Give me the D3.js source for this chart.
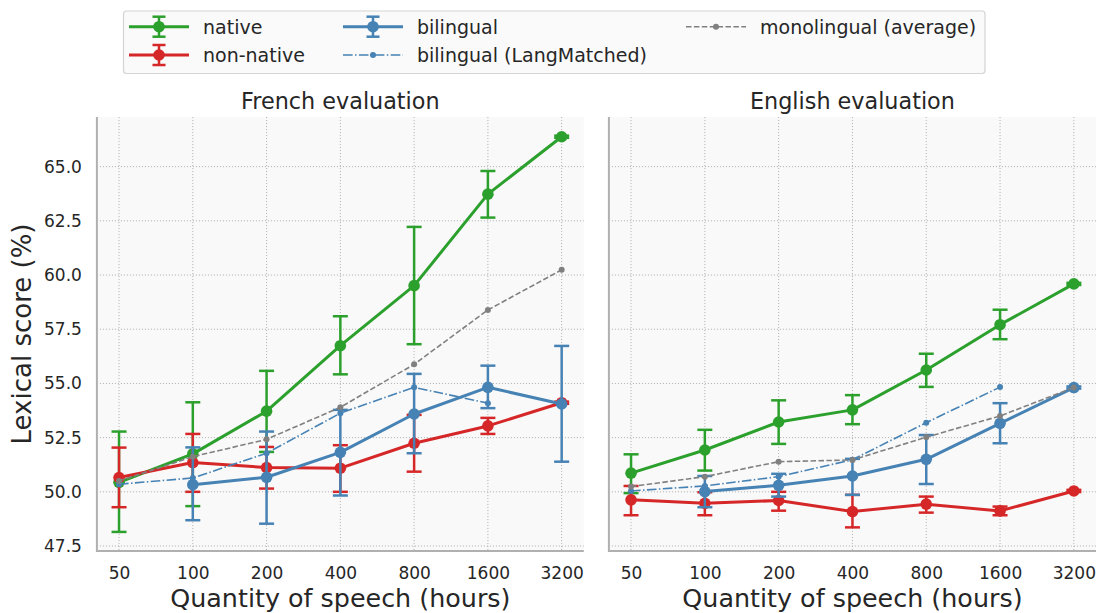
<!DOCTYPE html>
<html>
<head>
<meta charset="utf-8">
<script src="https://cdn.jsdelivr.net/npm/d3@7"></script>
<style>
  html, body { margin: 0; padding: 0; background: #fff; }
  svg { display: block; font-family: "DejaVu Sans", sans-serif; }
</style>
</head>
<body>
<svg id="chart" width="1097" height="613"></svg>
<script>
// Training hours (log2-spaced categories)
const hours = ["50", "100", "200", "400", "800", "1600", "3200"];
const yTicks = [47.5, 50.0, 52.5, 55.0, 57.5, 60.0, 62.5, 65.0];

// French evaluation
const frNative      = [50.44, 51.75, 53.72, 56.74, 59.51, 63.73, 66.38];
const frNativeLo    = [48.15, 49.34, 51.84, 55.42, 56.81, 62.65, 66.33];
const frNativeHi    = [52.78, 54.13, 55.58, 58.10, 62.22, 64.80, 66.43];
const frNonNative   = [50.66, 51.35, 51.12, 51.09, 52.24, 53.04, 54.11];
const frNonNativeLo = [49.29, 50.00, 50.15, 50.00, 50.93, 52.67, 54.06];
const frNonNativeHi = [52.04, 52.67, 52.07, 52.15, 53.55, 53.41, 54.16];
const frBilingual   = [null, 50.33, 50.67, 51.82, 53.59, 54.82, 54.05];
const frBilingualLo = [null, 48.69, 48.53, 49.83, 51.78, 53.86, 51.39];
const frBilingualHi = [null, 52.05, 52.78, 53.78, 55.44, 55.82, 56.73];
const frLangMatched = [50.35, 50.64, 51.78, 53.63, 54.82, 54.09, null];
const frMonolingual = [50.50, 51.62, 52.42, 53.90, 55.88, 58.39, 60.24];

// English evaluation
const enNative      = [50.86, 51.93, 53.22, 53.78, 55.62, 57.71, 59.59];
const enNativeLo    = [49.94, 50.98, 52.21, 53.12, 54.84, 57.04, 59.54];
const enNativeHi    = [51.73, 52.86, 54.22, 54.46, 56.37, 58.40, 59.64];
const enNonNative   = [49.63, 49.47, 49.60, 49.09, 49.43, 49.12, 50.04];
const enNonNativeLo = [48.92, 48.92, 49.13, 48.36, 49.04, 48.92, 49.99];
const enNonNativeHi = [50.27, 49.98, 50.00, 49.86, 49.78, 49.32, 50.09];
const enBilingual   = [null, 50.01, 50.30, 50.73, 51.50, 53.16, 54.81];
const enBilingualLo = [null, 49.29, 49.78, 49.86, 50.36, 52.24, 54.76];
const enBilingualHi = [null, 50.73, 50.83, 51.52, 52.62, 54.09, 54.86];
const enLangMatched = [50.04, 50.27, 50.70, 51.48, 53.19, 54.83, null];
const enMonolingual = [50.24, 50.70, 51.39, 51.47, 52.52, 53.50, 54.81];

const panelTitles = ["French evaluation", "English evaluation"];
const seriesNames = ["native", "non-native", "bilingual", "bilingual (LangMatched)", "monolingual (average)"];

const GREEN = "#2ca02c", RED = "#d62728", BLUE = "#4682b4", GREY = "#808080";
const TEXT = "#262626";

function panelSeries(native, nLo, nHi, non, nnLo, nnHi, bil, bLo, bHi, lm, mono) {
  return [
    { name: seriesNames[0], color: GREEN, values: native, lo: nLo, hi: nHi, kind: "err" },
    { name: seriesNames[1], color: RED, values: non, lo: nnLo, hi: nnHi, kind: "err" },
    { name: seriesNames[2], color: BLUE, values: bil, lo: bLo, hi: bHi, kind: "err" },
    { name: seriesNames[3], color: BLUE, values: lm, kind: "dashdot" },
    { name: seriesNames[4], color: GREY, values: mono, kind: "dashed" }
  ];
}

const panels = [
  { title: panelTitles[0], x0: 96.9, x1: 583.8, yLabels: true,
    series: panelSeries(frNative, frNativeLo, frNativeHi, frNonNative, frNonNativeLo, frNonNativeHi,
                        frBilingual, frBilingualLo, frBilingualHi, frLangMatched, frMonolingual) },
  { title: panelTitles[1], x0: 608.9, x1: 1096.0, yLabels: false,
    series: panelSeries(enNative, enNativeLo, enNativeHi, enNonNative, enNonNativeLo, enNonNativeHi,
                        enBilingual, enBilingualLo, enBilingualHi, enLangMatched, enMonolingual) }
];

const svg = d3.select("#chart");
const plotTop = 117, plotBottom = 551;

// Shared y scale (65.0 at 166.7, 47.5 at 546.1)
const y = d3.scaleLinear().domain([47.27, 67.29]).range([plotBottom, plotTop]);

const DASH = "5.5,2.4";
const DASHDOT = "9.6,2.4,1.5,2.4";

panels.forEach(p => {
  const x = d3.scalePoint().domain(hours).range([p.x0, p.x1]).padding(0.3);
  const g = svg.append("g");

  // plot background
  g.append("rect").attr("x", p.x0).attr("y", plotTop)
    .attr("width", p.x1 - p.x0).attr("height", plotBottom - plotTop)
    .attr("fill", "#f9f9f9");

  // dotted grid
  g.append("g").selectAll("line.gx").data(hours).join("line")
    .attr("x1", d => x(d)).attr("x2", d => x(d))
    .attr("y1", plotTop).attr("y2", plotBottom)
    .attr("stroke", "#b4b4b4").attr("stroke-width", 1).attr("stroke-dasharray", "1.1,1.9");
  g.append("g").selectAll("line.gy").data(yTicks).join("line")
    .attr("x1", p.x0).attr("x2", p.x1)
    .attr("y1", d => y(d)).attr("y2", d => y(d))
    .attr("stroke", "#b4b4b4").attr("stroke-width", 1).attr("stroke-dasharray", "1.1,1.9");

  // axes (labels only, no tick marks)
  const xAxis = d3.axisBottom(x).tickSize(0).tickPadding(16);
  const ax = g.append("g").attr("transform", `translate(0,${plotBottom})`).call(xAxis);
  ax.select(".domain").remove();
  ax.selectAll("text").attr("font-size", 17).attr("fill", TEXT)
    .attr("font-family", "DejaVu Sans");

  if (p.yLabels) {
    const yAxis = d3.axisLeft(y).tickValues(yTicks).tickFormat(d3.format(".1f")).tickSize(0).tickPadding(15);
    const ay = g.append("g").attr("transform", `translate(${p.x0},0)`).call(yAxis);
    ay.select(".domain").remove();
    ay.selectAll("text").attr("font-size", 17).attr("fill", TEXT)
      .attr("font-family", "DejaVu Sans");
  }

  // spines: left and bottom
  g.append("line").attr("x1", p.x0).attr("x2", p.x0).attr("y1", plotTop).attr("y2", plotBottom + 1)
    .attr("stroke", "#b0b0b0").attr("stroke-width", 2);
  g.append("line").attr("x1", p.x0).attr("x2", p.x1).attr("y1", plotBottom).attr("y2", plotBottom)
    .attr("stroke", "#b0b0b0").attr("stroke-width", 2);

  // title
  g.append("text").attr("x", (p.x0 + p.x1) / 2).attr("y", 108.5)
    .attr("text-anchor", "middle").attr("font-size", 22.3).attr("fill", TEXT).text(p.title);

  // x label
  g.append("text").attr("x", (p.x0 + p.x1) / 2).attr("y", 607)
    .attr("text-anchor", "middle").attr("font-size", 25.4).attr("fill", TEXT)
    .text("Quantity of speech (hours)");

  // series
  p.series.forEach(s => {
    const pts = hours.map((h, i) => ({ h, v: s.values[i], lo: s.lo ? s.lo[i] : null, hi: s.hi ? s.hi[i] : null }))
      .filter(d => d.v !== null);
    const line = d3.line().x(d => x(d.h)).y(d => y(d.v));
    const sg = g.append("g");

    if (s.kind === "err") {
      const eg = sg.append("g").attr("stroke", s.color).attr("stroke-width", 2.5);
      pts.forEach(d => {
        eg.append("line").attr("x1", x(d.h)).attr("x2", x(d.h)).attr("y1", y(d.lo)).attr("y2", y(d.hi));
        [d.lo, d.hi].forEach(v => {
          eg.append("line").attr("x1", x(d.h) - 7.5).attr("x2", x(d.h) + 7.5)
            .attr("y1", y(v)).attr("y2", y(v));
        });
      });
      sg.append("path").datum(pts).attr("d", line).attr("fill", "none")
        .attr("stroke", s.color).attr("stroke-width", 3).attr("stroke-linejoin", "round");
      sg.selectAll("circle").data(pts).join("circle")
        .attr("cx", d => x(d.h)).attr("cy", d => y(d.v)).attr("r", 5.8).attr("fill", s.color);
    } else {
      sg.append("path").datum(pts).attr("d", line).attr("fill", "none")
        .attr("stroke", s.color).attr("stroke-width", 1.6)
        .attr("stroke-dasharray", s.kind === "dashed" ? DASH : DASHDOT);
      sg.selectAll("circle").data(pts).join("circle")
        .attr("cx", d => x(d.h)).attr("cy", d => y(d.v)).attr("r", 3).attr("fill", s.color);
    }
  });
});

// y label
svg.append("text").attr("transform", "translate(31,334) rotate(-90)")
  .attr("text-anchor", "middle").attr("font-size", 26).attr("fill", TEXT)
  .text("Lexical score (%)");

// legend
const legend = svg.append("g");
legend.append("rect").attr("x", 123.5).attr("y", 11).attr("width", 861.5).attr("height", 62.5)
  .attr("rx", 3).attr("fill", "#fafafa").attr("stroke", "#d4d4d4").attr("stroke-width", 1.2);

const legendItems = [
  { name: seriesNames[0], color: GREEN, kind: "err", hx: 129, row: 0 },
  { name: seriesNames[1], color: RED, kind: "err", hx: 129, row: 1 },
  { name: seriesNames[2], color: BLUE, kind: "err", hx: 343, row: 0 },
  { name: seriesNames[3], color: BLUE, kind: "dashdot", hx: 343, row: 1 },
  { name: seriesNames[4], color: GREY, kind: "dashed", hx: 686, row: 0 }
];
const rowY = [26.7, 55];
legendItems.forEach(it => {
  const cy = rowY[it.row], hl = 60, cx = it.hx + hl / 2;
  const lg = legend.append("g");
  if (it.kind === "err") {
    lg.append("line").attr("x1", it.hx).attr("x2", it.hx + hl).attr("y1", cy).attr("y2", cy)
      .attr("stroke", it.color).attr("stroke-width", 3);
    lg.append("line").attr("x1", cx).attr("x2", cx).attr("y1", cy - 10).attr("y2", cy + 10)
      .attr("stroke", it.color).attr("stroke-width", 2.5);
    [cy - 10, cy + 10].forEach(v => lg.append("line").attr("x1", cx - 6.5).attr("x2", cx + 6.5)
      .attr("y1", v).attr("y2", v).attr("stroke", it.color).attr("stroke-width", 2.5));
    lg.append("circle").attr("cx", cx).attr("cy", cy).attr("r", 5.8).attr("fill", it.color);
  } else {
    lg.append("line").attr("x1", it.hx).attr("x2", it.hx + hl).attr("y1", cy).attr("y2", cy)
      .attr("stroke", it.color).attr("stroke-width", 1.6)
      .attr("stroke-dasharray", it.kind === "dashed" ? DASH : DASHDOT);
    lg.append("circle").attr("cx", cx).attr("cy", cy).attr("r", 3).attr("fill", it.color);
  }
  lg.append("text").attr("x", it.hx + hl + 14).attr("y", cy + 6.8)
    .attr("font-size", 19).attr("fill", TEXT).text(it.name);
});
</script>
</body>
</html>
